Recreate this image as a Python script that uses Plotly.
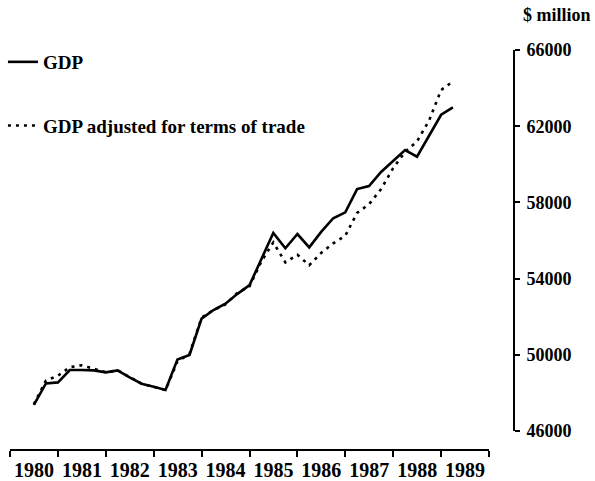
import plotly.graph_objects as go

# Quarterly observations, 1980 Q3 .. 1989 Q2
quarters = [f"{1980 + (6 + 3 * k) // 12}-{(6 + 3 * k) % 12 + 1:02d}-01" for k in range(36)]

gdp = [47370, 48500, 48550, 49200, 49200, 49180, 49080, 49180, 48820, 48480,
       48320, 48150, 49750, 49990, 51900, 52350, 52680, 53200, 53660, 55000,
       56400, 55590, 56340, 55640, 56450, 57170, 57480, 58700, 58860, 59600,
       60200, 60750, 60400, 61500, 62600, 62990]

gdp_tot = [47400, 48650, 48900, 49350, 49450, 49250, 49080, 49180, 48820, 48480,
           48320, 48150, 49650, 50050, 51950, 52350, 52650, 53250, 53600, 54900,
           55900, 54850, 55250, 54700, 55350, 55850, 56250, 57450, 57900, 58700,
           59800, 60650, 61200, 62300, 63900, 64350]

y_ticks = [46000, 50000, 54000, 58000, 62000, 66000]

serif = "Liberation Serif"

fig = go.Figure()
fig.add_trace(go.Scatter(x=quarters, y=gdp, mode="lines", name="GDP",
                         legendgroup="a",
                         line=dict(color="black", width=2.6)))
fig.add_trace(go.Scatter(x=quarters, y=gdp_tot, mode="lines",
                         name="GDP adjusted for terms of trade", legendgroup="b",
                         line=dict(color="black", width=2.6, dash="3px,5px")))

fig.update_layout(
    width=595, height=481,
    margin=dict(l=10, r=81, t=50, b=31, autoexpand=False),
    paper_bgcolor="white", plot_bgcolor="white",
    font=dict(family=serif, color="black"),
    showlegend=True,
    legend=dict(x=-0.014, y=1.0175, xanchor="left", yanchor="top",
                font=dict(family=serif, size=19, color="black", weight="bold"),
                traceorder="grouped", tracegroupgap=36,
                bgcolor="rgba(0,0,0,0)"),
    xaxis=dict(type="date", domain=[0, 479 / 504],
               range=["1980-01-01", "1990-01-01"],
               tick0="1980-01-01", dtick="M12", ticklabelmode="period",
               tickformat="%Y", ticks="outside", ticklen=6, tickwidth=2,
               tickcolor="black", showline=True, linecolor="black",
               linewidth=2, showgrid=False, zeroline=False,
               anchor="free", position=0, automargin=False,
               ticklabelstandoff=-4,
               tickfont=dict(family=serif, size=20, color="black", weight="bold")),
    yaxis=dict(domain=[0.0475, 1], range=[46000, 66000], side="right",
               anchor="free", position=1.0, tickvals=y_ticks,
               tickformat="d", ticks="outside", ticklen=5, tickwidth=2,
               tickcolor="black", showline=True, linecolor="black",
               linewidth=2, showgrid=False, zeroline=False, automargin=False,
               ticklabelstandoff=3,
               tickfont=dict(family=serif, size=18, color="black", weight="bold")),
    annotations=[dict(text="$ million", xref="paper", yref="paper",
                      x=1.0, y=1.0, yshift=23, xanchor="right", xshift=79,
                      yanchor="bottom", showarrow=False,
                      font=dict(family=serif, size=18, color="black", weight="bold"))],
)

fig.write_html("out.html", config={"displayModeBar": False},
               post_script="document.body.style.margin='0px';")
